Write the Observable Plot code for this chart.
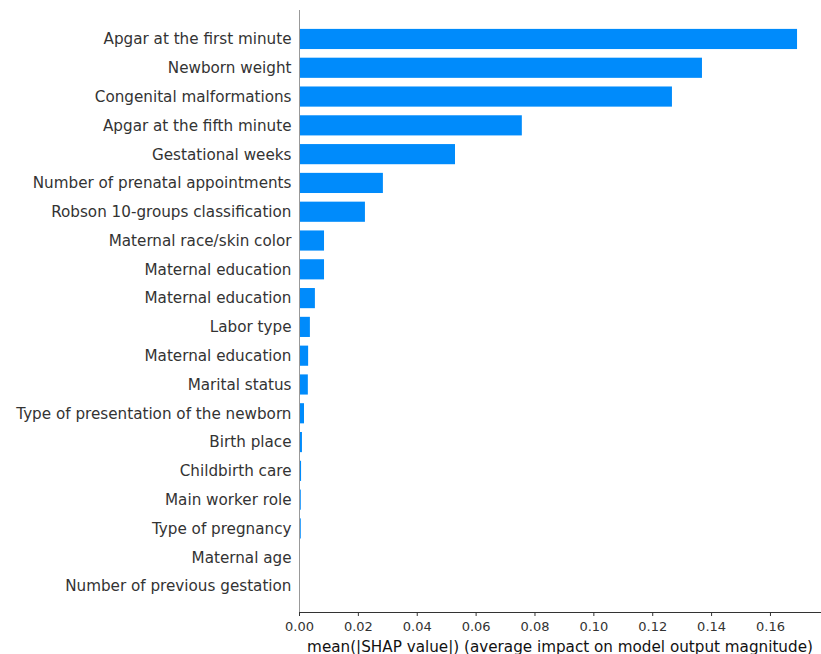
<!DOCTYPE html>
<html>
<head>
<meta charset="utf-8">
<script src="https://cdn.jsdelivr.net/npm/d3@7"></script>
<script src="https://cdn.jsdelivr.net/npm/@observablehq/plot@0.6"></script>
<style>
  html, body { margin: 0; padding: 0; background: #fff; }
  svg { display: block; }
</style>
</head>
<body>
<div id="chart"></div>
<script>
const features = [
  "Apgar at the first minute",
  "Newborn weight",
  "Congenital malformations",
  "Apgar at the fifth minute",
  "Gestational weeks",
  "Number of prenatal appointments",
  "Robson 10-groups classification",
  "Maternal race/skin color",
  "Maternal education",
  "Maternal education ",
  "Labor type",
  "Maternal education  ",
  "Marital status",
  "Type of presentation of the newborn",
  "Birth place",
  "Childbirth care",
  "Main worker role",
  "Type of pregnancy",
  "Maternal age",
  "Number of previous gestation"
];
const meanAbsShap = [
  0.1692, 0.1369, 0.1267, 0.0757, 0.0530, 0.0285, 0.0224, 0.0085, 0.0085, 0.0054,
  0.0037, 0.0031, 0.0030, 0.0017, 0.0010, 0.0007, 0.0006, 0.0006, 0.0002, 0.0001
];
const xTicks = [0, 0.02, 0.04, 0.06, 0.08, 0.10, 0.12, 0.14, 0.16];

const data = features.map((f, i) => ({feature: f, value: meanAbsShap[i]}));

const chart = Plot.plot({
  width: 821,
  height: 654,
  marginLeft: 299,
  marginRight: 1,
  marginTop: 10,
  marginBottom: 42,
  style: {fontFamily: "DejaVu Sans", color: "#333", background: "#fff"},
  x: {domain: [0, 0.177]},
  y: {domain: features, paddingInner: 0.3, paddingOuter: 0.5, range: [14.5, 610.5], round: false},
  marks: [
    Plot.barX(data, {x: "value", y: "feature", fill: "#008bfb"}),
    Plot.ruleX([0], {stroke: "#999999", strokeWidth: 1}),
    Plot.frame({anchor: "bottom", stroke: "#333", strokeWidth: 1}),
    Plot.axisX({
      ticks: xTicks, tickFormat: d3.format(".2f"), tickSize: 4, tickPadding: 5,
      fontSize: 13, label: null, stroke: "#333", fill: "#333"
    }),
    Plot.axisY({
      tickSize: 0, tickPadding: 8, fontSize: 15.2, label: null, fill: "#333",
      tickFormat: d => d.trim()
    }),
    Plot.text(["mean(|SHAP value|) (average impact on model output magnitude)"], {
      frameAnchor: "bottom", dy: 39, fontSize: 15.2, fill: "#111", text: d => d
    })
  ]
});
document.getElementById("chart").appendChild(chart);
</script>
</body>
</html>
